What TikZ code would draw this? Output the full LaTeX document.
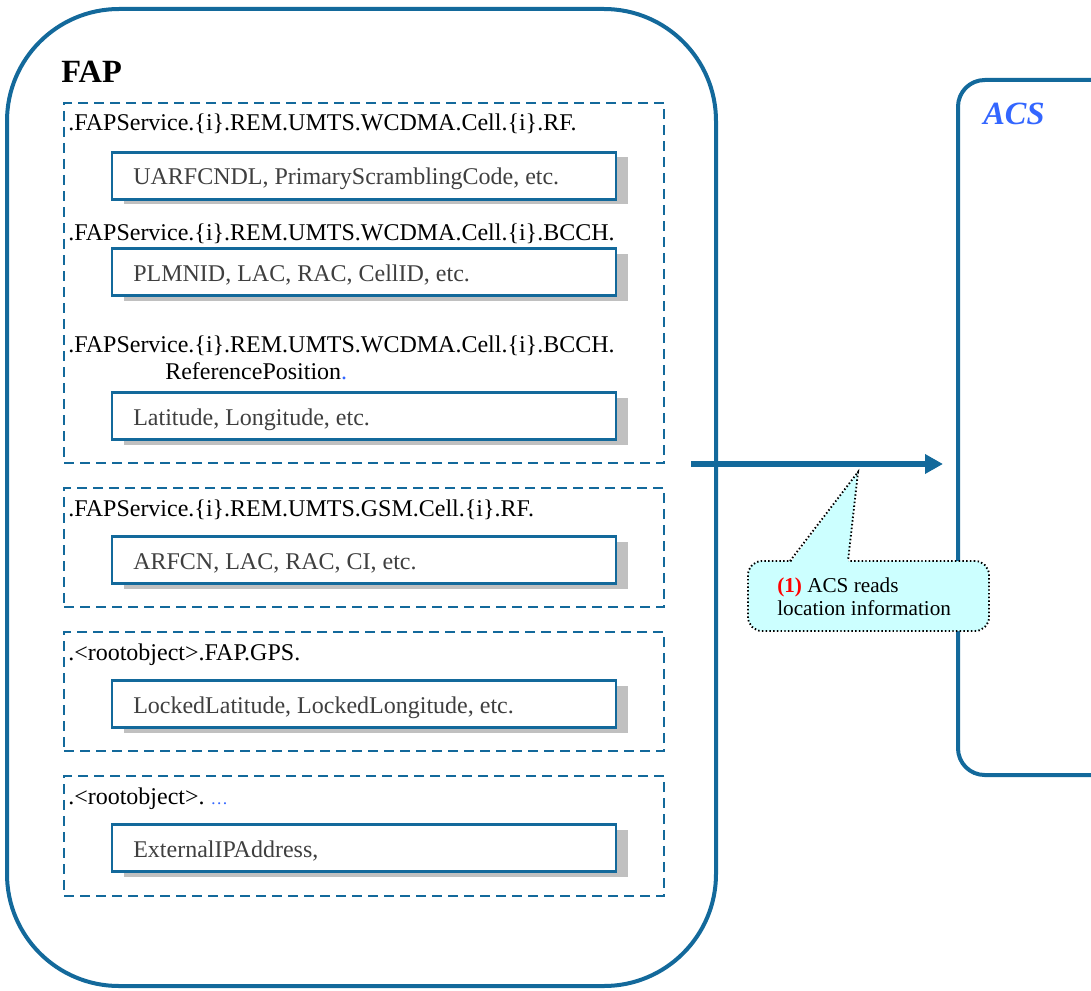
\documentclass[tikz,border=0pt]{standalone}
\usepackage{fontspec}
\setmainfont{Liberation Serif}
\usetikzlibrary{fit,shadows,arrows.meta}

\definecolor{frameblue}{HTML}{13699B}
\definecolor{acsblue}{HTML}{3366FF}
\definecolor{valgray}{HTML}{3F3F3F}
\definecolor{shadowgray}{HTML}{C0C0C0}
\definecolor{calloutfill}{HTML}{CCFFFF}

\tikzset{
  container/.style={draw=frameblue, line width=3pt, inner sep=0pt},
  section/.style={draw=frameblue, line width=1.9pt, dash pattern=on 7.5pt off 4.5pt, inner sep=0pt},
  valuebox/.style={draw=frameblue, line width=2.2pt, fill=white, inner sep=0pt,
    drop shadow={shadow xshift=9pt, shadow yshift=-3.75pt, fill=shadowgray, opacity=1}},
  pathtext/.style={anchor=base west, inner sep=0pt, font=\fontsize{18}{21}\selectfont},
  valtext/.style={pathtext, text=valgray},
  title/.style={anchor=base west, inner sep=0pt, font=\fontsize{24.3}{28}\selectfont\bfseries},
  flow/.style={draw=frameblue, line width=4.7pt, -{Triangle[length=13.5pt, width=14pt]}},
  dotline/.style={draw=black, line width=1.4pt, dash pattern=on 1.1pt off 1.7pt},
  calloutbody/.style={dotline, fill=calloutfill, rounded corners=10.5pt, inner sep=0pt},
  callouttext/.style={anchor=base west, inner sep=0pt, font=\fontsize{15.9}{18}\selectfont},
}

\begin{document}
\begin{tikzpicture}[x=0.75pt, y=-0.75pt]
  \useasboundingbox (0,0) rectangle (1091,991);
  \clip (0,0) rectangle (1091,991);

  % FAP device
  \node[container, rounded corners=84pt, fit={(7,9) (716,986)}] (fap) {};
  \node[title] (faptitle) at (61,83) {FAP};

  % parameter groups
  \node[section, fit={(64,103) (664,463)}] (wcdma) {};
  \node[section, fit={(64,488) (664,607)}] (gsm) {};
  \node[section, fit={(64,632) (664,751)}] (gps) {};
  \node[section, fit={(64,776) (664,896)}] (misc) {};

  % WCDMA cell objects
  \node[pathtext] (rfpath) at (68,131) {.FAPService.\{i\}.REM.UMTS.WCDMA.Cell.\{i\}.RF.};
  \node[valuebox, fit={(112,152.5) (616,199.5)}] (rfbox) {};
  \node[valtext] (rfval) at (133,185) {UARFCNDL, PrimaryScramblingCode, etc.};

  \node[pathtext] (bcchpath) at (68,241) {.FAPService.\{i\}.REM.UMTS.WCDMA.Cell.\{i\}.BCCH.};
  \node[valuebox, fit={(112,248.5) (616,295.5)}] (bcchbox) {};
  \node[valtext] (bcchval) at (133,281) {PLMNID, LAC, RAC, CellID, etc.};

  \node[pathtext] (refpath) at (68,352) {.FAPService.\{i\}.REM.UMTS.WCDMA.Cell.\{i\}.BCCH.};
  \node[pathtext] (refpath2) at (165,379) {ReferencePosition\textcolor{acsblue}{.}};
  \node[valuebox, fit={(112,392.5) (616,439.5)}] (refbox) {};
  \node[valtext] (refval) at (133,425) {Latitude, Longitude, etc.};

  % GSM cell objects
  \node[pathtext] (gsmpath) at (68,516) {.FAPService.\{i\}.REM.UMTS.GSM.Cell.\{i\}.RF.};
  \node[valuebox, fit={(112,536.5) (616,583.5)}] (gsmbox) {};
  \node[valtext] (gsmval) at (133,569) {ARFCN, LAC, RAC, CI, etc.};

  % GPS objects
  \node[pathtext] (gpspath) at (68,660) {.<rootobject>.FAP.GPS.};
  \node[valuebox, fit={(112,680.5) (616,727.5)}] (gpsbox) {};
  \node[valtext] (gpsval) at (133,713) {LockedLatitude, LockedLongitude, etc.};

  % other objects
  \node[pathtext] (miscpath) at (68,804) {.<rootobject>.\ \textcolor{acsblue}{\fontsize{13}{15}\selectfont\ldots}};
  \node[valuebox, fit={(112,824.5) (616,871.5)}] (miscbox) {};
  \node[valtext] (miscval) at (133,857) {ExternalIPAddress,};

  % ACS server
  \node[container, rounded corners=20pt, fit={(958,80) (1140,775)}] (acs) {};
  \node[title, font=\fontsize{24.3}{28}\selectfont\bfseries\itshape, text=acsblue] (acstitle) at (983,125) {ACS};

  % read operation
  \coordinate (readfrom) at (691,464);
  \draw[flow, shorten >=9.75pt] (readfrom) -- (readfrom -| acs.west);

  % callout
  \node[calloutbody, fit={(748,561) (989,631)}] (note) {};
  \coordinate (notetip) at (858,472);
  \coordinate (baseL) at (790,561);
  \coordinate (baseR) at (848,561);
  \fill[calloutfill] ([yshift=-2pt]baseL) -- (notetip) -- ([yshift=-2pt]baseR) -- cycle;
  \draw[dotline] (baseL) -- (notetip) -- (baseR);
  \node[callouttext] (noteline1) at (777,592) {\textcolor{red}{\textbf{(1)}} ACS reads};
  \node[callouttext] (noteline2) at (777,615) {location information};
\end{tikzpicture}
\end{document}
